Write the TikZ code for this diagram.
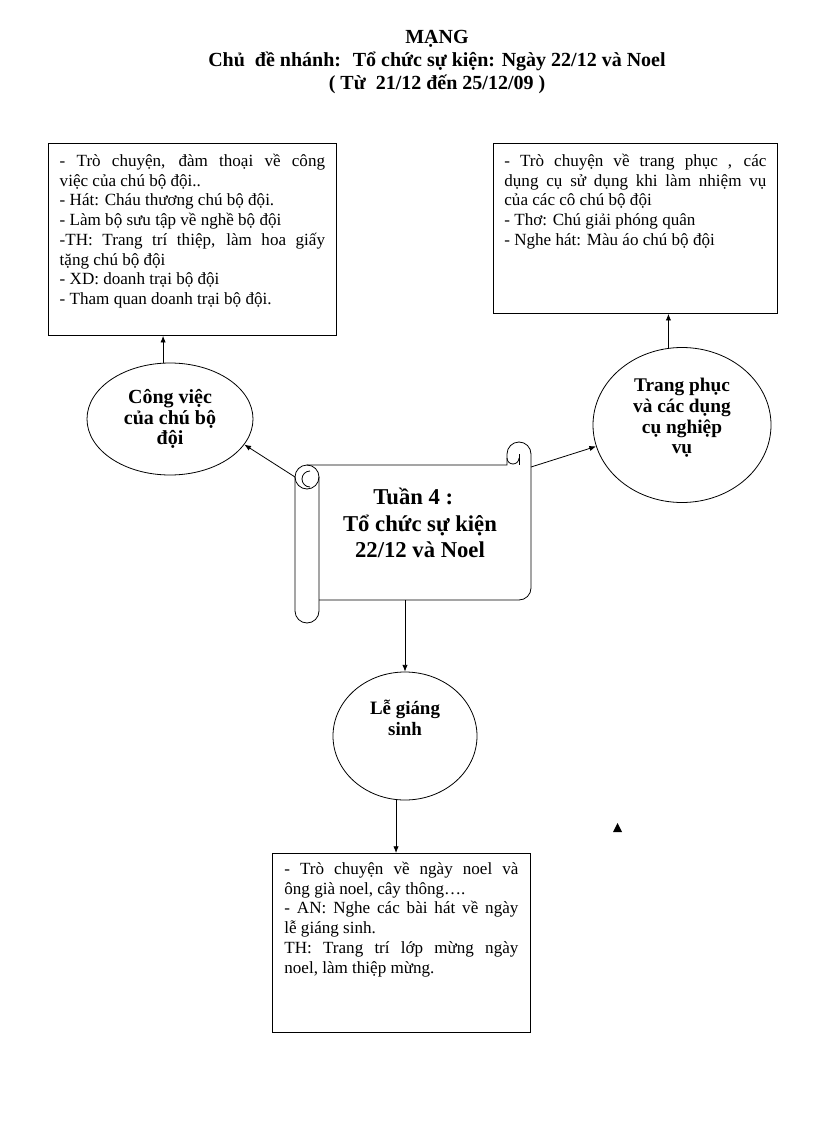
\documentclass[tikz,border=0pt]{standalone}
\usepackage{fontspec}
\setmainfont{Liberation Serif}
\usetikzlibrary{calc, shapes.geometric, positioning, arrows.meta}
\lineskiplimit=-100pt

\begin{document}
\begin{tikzpicture}[>={Latex[length=5pt,width=4pt]}, x=0.75pt, y=-0.75pt,
    hop/.style={draw, line width=0.6pt, anchor=north west, inner ysep=0pt,
        align=justify, font=\fontsize{12.8pt}{14.8pt}\selectfont},
    elip/.style={draw, ellipse, line width=0.6pt, inner sep=0pt, align=center},
    muiten/.style={->, line width=0.6pt}]
    \useasboundingbox (0,0) rectangle (816,1123);

    % Tiêu đề
    \node[anchor=north, inner sep=0pt, align=center,
        font=\fontsize{15pt}{17.4pt}\selectfont\bfseries] (tieude) at (437,30)
        {MẠNG\\Chủ~ đề nhánh:~ Tổ chức sự kiện: Ngày 22/12 và Noel\\( Từ~ 21/12 đến 25/12/09 )};

    % Các hộp nội dung
    \node[hop, text width=199pt, inner xsep=8.5pt, text height=17.25pt, text depth=126.75pt]
        (hoptrai) at (48,143)
        {- Trò chuyện, đàm thoại về công\linebreak việc của chú bộ đội..\\
         - Hát: Cháu thương chú bộ đội.\\
         - Làm bộ sưu tập về nghề bộ đội\\
         -TH: Trang trí thiệp, làm hoa giấy\linebreak tặng chú bộ đội\\
         - XD: doanh trại bộ đội\\
         - Tham quan doanh trại bộ đội.};
    \node[hop, text width=196.5pt, inner xsep=8.25pt, text height=17.25pt, text depth=110.25pt]
        (hopphai) at (493,143)
        {- Trò chuyện về trang phục , các\linebreak dụng cụ sử dụng khi làm nhiệm vụ\linebreak của các cô chú bộ đội\\
         - Thơ: Chú giải phóng quân\\
         - Nghe hát: Màu áo chú bộ đội};
    \node[hop, text width=175.5pt, inner xsep=9pt, text height=15.75pt, text depth=118.5pt]
        (hopduoi) at (272,853)
        {- Trò chuyện về ngày noel và\linebreak ông già noel, cây thông….\\
         - AN: Nghe các bài hát về ngày\linebreak lễ giáng sinh.\\
         TH: Trang trí lớp mừng ngày\linebreak noel, làm thiệp mừng.};

    % Các hình elip
    \node[elip, minimum width=124.5pt, minimum height=84pt,
        font=\fontsize{15pt}{15.5pt}\selectfont\bfseries]
        (congviec) at (170,419) {Công việc\\của chú bộ\\đội};
    \node[elip, minimum width=133.5pt, minimum height=116.25pt,
        font=\fontsize{14.5pt}{15.6pt}\selectfont\bfseries]
        (trangphuc) at (682,425) {Trang phục\\và các dụng\\cụ nghiệp\\vụ\\[-2pt]\mbox{}};
    \node[elip, minimum width=108pt, minimum height=96pt,
        font=\fontsize{14.2pt}{15.5pt}\selectfont\bfseries]
        (giangsinh) at (405,736) {Lễ giáng\\sinh\\[11.5pt]\mbox{}};

    % Cuộn giấy ở giữa
    \draw[line width=0.6pt] (307,465) -- (507,465) -- (507,454)
        arc[start angle=180, end angle=0, radius=9pt] -- (531,588)
        arc[start angle=0, end angle=-90, radius=9pt] -- (319,600);
    \draw[line width=0.6pt] (507,458) arc[start angle=180, end angle=360, radius=4.5pt];
    \draw[line width=0.6pt] (519,454) -- (519,465);
    \draw[line width=0.6pt] (307,477) circle[radius=9pt];
    \draw[line width=0.6pt] (295,477) -- (295,611)
        arc[start angle=180, end angle=360, radius=9pt] -- (319,477);
    \draw[line width=0.6pt] (310,471) arc[start angle=90, end angle=270, radius=6pt];
    \node[align=center, font=\fontsize{17pt}{20pt}\selectfont\bfseries] (cuon) at (420,523)
        {Tuần 4 :\hspace*{10pt}\\Tổ chức sự kiện\\22/12 và Noel};
    \coordinate (cuontrai) at (295,477);
    \coordinate (cuonphai) at (531,467);
    \coordinate (cuonday) at (405,600);

    % Mũi tên
    \draw[muiten] (cuontrai) -- (congviec.-19);
    \draw[muiten] (cuonphai) -- (trangphuc.194);
    \draw[muiten] (cuonday) -- (giangsinh.north);
    \draw[muiten] (congviec.97) -- (congviec.97 |- hoptrai.south);
    \draw[muiten] (trangphuc.100) -- (trangphuc.100 |- hopphai.south);
    \draw[muiten] (giangsinh.262) -- (giangsinh.262 |- hopduoi.north);

    \fill (613,832) -- (617.5,823) -- (622,832) -- cycle;
\end{tikzpicture}
\end{document}
